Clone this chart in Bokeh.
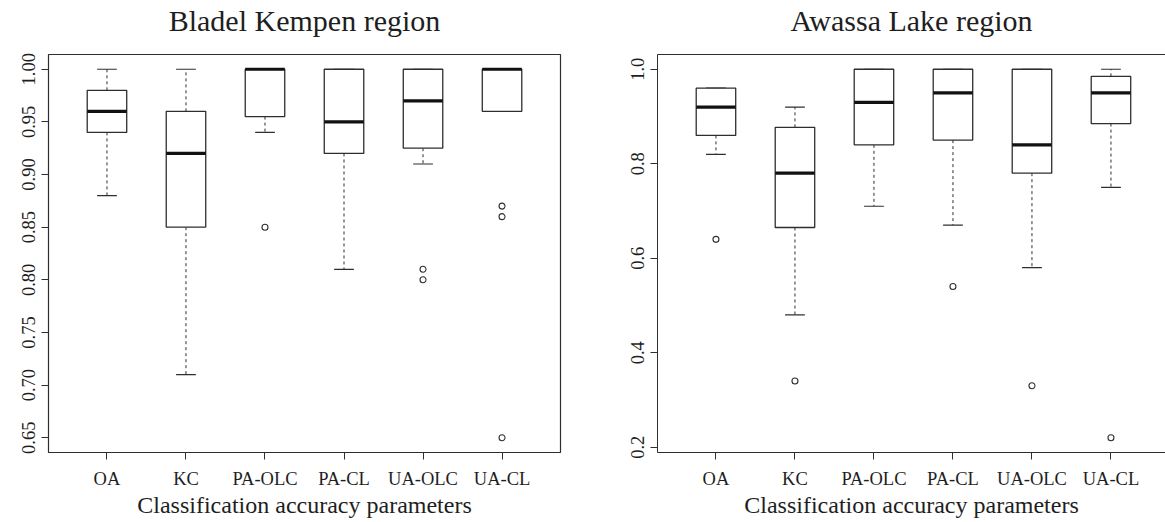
from bokeh.plotting import figure
from bokeh.layouts import row
from bokeh.models import FixedTicker, LinearAxis, Range1d
from bokeh.embed import file_html
from bokeh.resources import INLINE

# ---------------- data ----------------
categories = ["OA", "KC", "PA-OLC", "PA-CL", "UA-OLC", "UA-CL"]

# Bladel Kempen region
bk_lower = [0.88, 0.71, 0.94, 0.81, 0.91, 0.96]
bk_q1 = [0.94, 0.85, 0.955, 0.92, 0.925, 0.96]
bk_median = [0.96, 0.92, 1.00, 0.95, 0.97, 1.00]
bk_q3 = [0.98, 0.96, 1.00, 1.00, 1.00, 1.00]
bk_upper = [1.00, 1.00, 1.00, 1.00, 1.00, 1.00]
bk_out_cat = ["PA-OLC", "UA-OLC", "UA-OLC", "UA-CL", "UA-CL", "UA-CL"]
bk_out_val = [0.85, 0.81, 0.80, 0.87, 0.86, 0.65]
bk_ticks = [0.65, 0.70, 0.75, 0.80, 0.85, 0.90, 0.95, 1.00]
bk_tick_labels = ["0.65", "0.70", "0.75", "0.80", "0.85", "0.90", "0.95", "1.00"]

# Awassa Lake region
aw_lower = [0.82, 0.48, 0.71, 0.67, 0.58, 0.75]
aw_q1 = [0.86, 0.665, 0.84, 0.85, 0.78, 0.885]
aw_median = [0.92, 0.78, 0.93, 0.95, 0.84, 0.95]
aw_q3 = [0.96, 0.877, 1.00, 1.00, 1.00, 0.985]
aw_upper = [0.96, 0.92, 1.00, 1.00, 1.00, 1.00]
aw_out_cat = ["OA", "KC", "PA-CL", "UA-OLC", "UA-CL"]
aw_out_val = [0.64, 0.34, 0.54, 0.33, 0.22]
aw_ticks = [0.2, 0.4, 0.6, 0.8, 1.0]
aw_tick_labels = ["0.2", "0.4", "0.6", "0.8", "1.0"]

FONT = "Liberation Serif"
LINE = "#2e2e2e"
TEXT = "#1e1e1e"
BOX_W = 0.5
CAP_W = 0.25


def make_panel(title, lower, q1, med, q3, upper, out_cat, out_val,
               ticks, tick_labels, y_range, x_range, width, bl, br, hide_right):
    p = figure(width=width, height=522, output_backend="svg", toolbar_location=None,
               x_range=Range1d(*x_range), y_range=Range1d(*y_range),
               min_border_left=bl, min_border_right=br, min_border_top=53,
               min_border_bottom=70)
    p.xgrid.visible = False
    p.ygrid.visible = False
    p.background_fill_color = "white"
    p.border_fill_color = "white"

    xs = [i + 1 for i in range(len(categories))]

    # whiskers (dashed)
    p.segment(x0=xs, y0=q3, x1=xs, y1=upper, line_color=LINE, line_width=1, line_dash="3 3")
    p.segment(x0=xs, y0=q1, x1=xs, y1=lower, line_color=LINE, line_width=1, line_dash="3 3")
    # staples
    p.segment(x0=[x - CAP_W / 2 for x in xs], y0=upper, x1=[x + CAP_W / 2 for x in xs], y1=upper,
              line_color=LINE, line_width=1.2)
    p.segment(x0=[x - CAP_W / 2 for x in xs], y0=lower, x1=[x + CAP_W / 2 for x in xs], y1=lower,
              line_color=LINE, line_width=1.2)
    # boxes
    p.vbar(x=xs, width=BOX_W, top=q3, bottom=q1, fill_color="white", line_color=LINE, line_width=1.3)
    # medians
    p.segment(x0=[x - BOX_W / 2 for x in xs], y0=med, x1=[x + BOX_W / 2 for x in xs], y1=med,
              line_color="#111111", line_width=3.2)
    # outliers
    ox = [categories.index(c) + 1 for c in out_cat]
    p.scatter(x=ox, y=out_val, marker="circle", size=6, fill_color=None, line_color=LINE, line_width=1.1)

    # axes
    p.xaxis.ticker = FixedTicker(ticks=xs)
    p.xaxis.major_label_overrides = {x: c for x, c in zip(xs, categories)}
    p.yaxis.ticker = FixedTicker(ticks=ticks)
    p.yaxis.major_label_overrides = {t: l for t, l in zip(ticks, tick_labels)}
    p.yaxis.major_label_orientation = "vertical"
    p.xaxis.axis_label = "Classification accuracy parameters"
    for ax in (p.xaxis[0], p.yaxis[0]):
        ax.major_tick_out = 7
        ax.major_tick_in = 0
        ax.minor_tick_out = 0
        ax.minor_tick_in = 0
        ax.major_tick_line_color = LINE
        ax.axis_line_color = LINE if hide_right else None
        ax.major_label_text_font = FONT
        ax.major_label_text_font_size = "18.5px"
        ax.major_label_text_color = TEXT
        ax.axis_label_text_font = FONT
        ax.axis_label_text_font_size = "24px"
        ax.axis_label_text_font_style = "normal"
        ax.axis_label_text_color = TEXT
    p.xaxis.major_label_standoff = 9
    p.xaxis.axis_label_standoff = 0
    p.yaxis.major_label_standoff = 6

    # top axis with one invisible tick: spacer between frame and title
    # (its line is the top border on the right panel)
    top = LinearAxis(major_tick_out=17, major_tick_in=0, minor_tick_out=0, minor_tick_in=0,
                     major_tick_line_color=LINE, major_tick_line_alpha=0.0,
                     major_label_text_font_size="1px", major_label_standoff=0,
                     axis_line_color=LINE if hide_right else None)
    top.ticker = FixedTicker(ticks=[xs[0]])
    top.major_label_overrides = {xs[0]: ""}
    p.add_layout(top, "above")

    p.title.text = title
    p.title.align = "center"
    p.title.text_font = FONT
    p.title.text_font_size = "30px"
    p.title.text_font_style = "normal"
    p.title.text_color = TEXT
    p.title.standoff = 2

    if hide_right:
        p.outline_line_color = None
    else:
        p.outline_line_color = LINE
        p.outline_line_width = 1.2
    return p


p1 = make_panel("Bladel Kempen region", bk_lower, bk_q1, bk_median, bk_q3, bk_upper,
                bk_out_cat, bk_out_val, bk_ticks, bk_tick_labels,
                (0.636, 1.014), (0.26, 6.74), 580, 48, 20, False)
p2 = make_panel("Awassa Lake region", aw_lower, aw_q1, aw_median, aw_q3, aw_upper,
                aw_out_cat, aw_out_val, aw_ticks, aw_tick_labels,
                (0.1888, 1.0312), (0.26, 0.26 + 508 / 79.0), 585, 77, 0, True)

layout = row(p1, p2)
open("out.html", "w").write(file_html(layout, INLINE))
